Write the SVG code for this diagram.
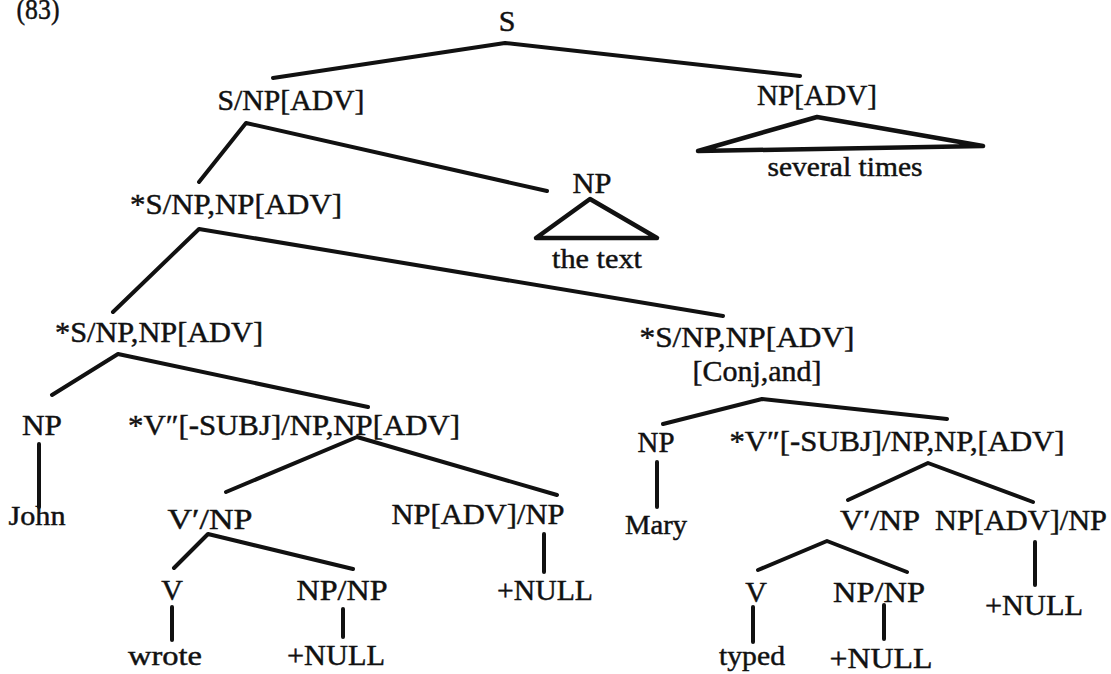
<svg xmlns="http://www.w3.org/2000/svg" width="1111" height="674" viewBox="0 0 1111 674">
  <style>
    text { font-family: "Liberation Serif", "DejaVu Serif", "Noto Serif", serif; fill: #111; stroke: #111; stroke-width: 0.45; text-anchor: middle; }
    .lbl { font-size: 30px; }
    .wd { font-size: 28px; }
    .br { fill: none; stroke: #111; stroke-width: 4; stroke-linecap: round; stroke-linejoin: round; }
    .tri { fill: none; stroke: #111; stroke-width: 4.5; stroke-linejoin: round; stroke-linecap: round; }
  </style>
  <rect width="1111" height="674" fill="#fff"/>

  <!-- example number -->
  <text id="num" class="lbl" x="38" y="19" textLength="43" lengthAdjust="spacingAndGlyphs">(83)</text>

  <!-- branches -->
  <g id="connectors">
    <polyline class="br" points="273,78 505,43 800,76"/>
    <polyline class="br" points="199,182 246,123 547,191"/>
    <polyline class="br" points="113,312 199,229 723,316"/>
    <polyline class="br" points="52,395 118,354 368,407"/>
    <polyline class="br" points="226,492 357,437 557,495"/>
    <polyline class="br" points="174,568 208,534 353,569"/>
    <line class="br" x1="39" y1="444" x2="39" y2="507"/>
    <line class="br" x1="172" y1="607" x2="172" y2="640"/>
    <line class="br" x1="343" y1="609" x2="343" y2="637"/>
    <line class="br" x1="544" y1="534" x2="544" y2="572"/>
    <polyline class="br" points="663,424 762,399 947,419"/>
    <line class="br" x1="657" y1="462" x2="657" y2="507"/>
    <polyline class="br" points="848,500 928,463 1033,502"/>
    <polyline class="br" points="758,570 827,541 907,572"/>
    <line class="br" x1="753" y1="607" x2="753" y2="642"/>
    <line class="br" x1="884" y1="605" x2="884" y2="639"/>
    <line class="br" x1="1035" y1="542" x2="1035" y2="585"/>
  </g>

  <g id="n-S"><text class="lbl" x="507" y="31">S</text></g>
  <g id="n-S-NPADV"><text class="lbl" x="291" y="110" textLength="147" lengthAdjust="spacingAndGlyphs">S/NP[ADV]</text></g>
  <g id="n-NPADV">
    <text class="lbl" x="817" y="105" textLength="120" lengthAdjust="spacingAndGlyphs">NP[ADV]</text>
    <polygon class="tri" points="817,117 983,146 698,151"/>
    <text class="wd" x="845" y="176" textLength="155" lengthAdjust="spacingAndGlyphs">several times</text>
  </g>
  <g id="n-S1"><text class="lbl" x="236" y="214" textLength="212" lengthAdjust="spacingAndGlyphs">*S/NP,NP[ADV]</text></g>
  <g id="n-NP-text">
    <text class="lbl" x="592" y="193" textLength="39" lengthAdjust="spacingAndGlyphs">NP</text>
    <polygon class="tri" points="590,199 657,238 536,238"/>
    <text class="wd" x="597" y="268" textLength="90" lengthAdjust="spacingAndGlyphs">the text</text>
  </g>

  <!-- first conjunct -->
  <g id="n-S2"><text class="lbl" x="159" y="342" textLength="208" lengthAdjust="spacingAndGlyphs">*S/NP,NP[ADV]</text></g>
  <g id="n-NP-john"><text class="lbl" x="42" y="435" textLength="40" lengthAdjust="spacingAndGlyphs">NP</text></g>
  <g id="n-john"><text class="wd" x="37" y="525" textLength="57" lengthAdjust="spacingAndGlyphs">John</text></g>
  <g id="n-V2-a"><text class="lbl" x="294" y="435" textLength="332" lengthAdjust="spacingAndGlyphs">*V″[-SUBJ]/NP,NP[ADV]</text></g>
  <g id="n-V1-a"><text class="lbl" x="210" y="529" textLength="85" lengthAdjust="spacingAndGlyphs">V′/NP</text></g>
  <g id="n-advnp-a"><text class="lbl" x="478" y="524" textLength="173" lengthAdjust="spacingAndGlyphs">NP[ADV]/NP</text></g>
  <g id="n-V-a"><text class="lbl" x="172" y="600">V</text></g>
  <g id="n-npnp-a"><text class="lbl" x="342" y="600" textLength="91" lengthAdjust="spacingAndGlyphs">NP/NP</text></g>
  <g id="n-null-a1"><text class="lbl" x="545" y="600" textLength="96" lengthAdjust="spacingAndGlyphs">+NULL</text></g>
  <g id="n-wrote"><text class="wd" x="165" y="665" textLength="74" lengthAdjust="spacingAndGlyphs">wrote</text></g>
  <g id="n-null-a2"><text class="lbl" x="336" y="665" textLength="98" lengthAdjust="spacingAndGlyphs">+NULL</text></g>

  <!-- second conjunct -->
  <g id="n-S3">
    <text class="lbl" x="747" y="347" textLength="215" lengthAdjust="spacingAndGlyphs">*S/NP,NP[ADV]</text>
    <text class="lbl" x="757" y="381" textLength="129" lengthAdjust="spacingAndGlyphs">[Conj,and]</text>
  </g>
  <g id="n-NP-mary"><text class="lbl" x="656" y="452" textLength="37" lengthAdjust="spacingAndGlyphs">NP</text></g>
  <g id="n-mary"><text class="wd" x="656" y="534" textLength="62" lengthAdjust="spacingAndGlyphs">Mary</text></g>
  <g id="n-V2-b"><text class="lbl" x="897" y="451" textLength="335" lengthAdjust="spacingAndGlyphs">*V″[-SUBJ]/NP,NP,[ADV]</text></g>
  <g id="n-V1-b"><text class="lbl" x="880" y="530" textLength="80" lengthAdjust="spacingAndGlyphs">V′/NP</text></g>
  <g id="n-advnp-b"><text class="lbl" x="1021" y="530" textLength="172" lengthAdjust="spacingAndGlyphs">NP[ADV]/NP</text></g>
  <g id="n-V-b"><text class="lbl" x="756" y="602">V</text></g>
  <g id="n-npnp-b"><text class="lbl" x="879" y="602" textLength="92" lengthAdjust="spacingAndGlyphs">NP/NP</text></g>
  <g id="n-null-b1"><text class="lbl" x="1034" y="615" textLength="98" lengthAdjust="spacingAndGlyphs">+NULL</text></g>
  <g id="n-typed"><text class="wd" x="752" y="665" textLength="66" lengthAdjust="spacingAndGlyphs">typed</text></g>
  <g id="n-null-b2"><text class="lbl" x="881" y="668" textLength="103" lengthAdjust="spacingAndGlyphs">+NULL</text></g>
</svg>
